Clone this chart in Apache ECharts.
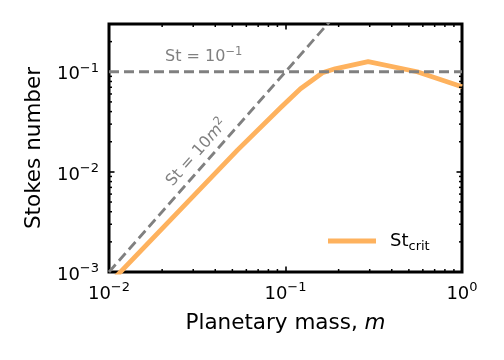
<!DOCTYPE html>
<html>
<head>
<meta charset="utf-8">
<script src="https://cdn.jsdelivr.net/npm/echarts@6/dist/echarts.min.js"></script>
<style>html,body{margin:0;padding:0;background:#fff;}#c{width:504px;height:360px;}</style>
</head>
<body>
<div id="c"></div>
<script>
// ---- data ----
const critM  = [0.01, 0.0536, 0.0937, 0.1216, 0.138, 0.162, 0.191, 0.294, 0.557, 1.0];
const critSt = [0.00076, 0.0166, 0.0437, 0.0676, 0.0794, 0.0977, 0.107, 0.126, 0.100, 0.0708];
const refLineM  = [0.01, 0.2];       // St = 10 m^2 reference
const refLineSt = [0.001, 0.4];
const hLineM  = [0.01, 1];           // St = 10^-1 reference
const hLineSt = [0.1, 0.1];
const xMinorTicks = [0.02,0.03,0.04,0.05,0.06,0.07,0.08,0.09,0.2,0.3,0.4,0.5,0.6,0.7,0.8,0.9];
const yMinorTicks = [0.002,0.003,0.004,0.005,0.006,0.007,0.008,0.009,0.02,0.03,0.04,0.05,0.06,0.07,0.08,0.09,0.2,0.3];
const xRange = [0.01, 1];
const yRange = [0.001, 0.3];

const FONT = 'DejaVu Sans';
const GRAY = '#808080';
const ORANGE = '#feb25e';

function powLabel(v) {
  const l = Math.log10(v);
  const e = Math.round(l);
  if (Math.abs(l - e) > 0.01) return '';
  return '{b|10}{s|' + (e < 0 ? '\u2212' + (-e) : e) + '}';
}
const tickRich = {
  b: {fontFamily: FONT, fontSize: 18, lineHeight: 26, color: '#000'},
  s: {fontFamily: FONT, fontSize: 13, lineHeight: 12, verticalAlign: 'top', color: '#000'}
};

const chart = echarts.init(document.getElementById('c'), null, {renderer: 'canvas'});

function minorTickSeries(values, isX) {
  return {
    type: 'custom',
    silent: true,
    z: 5,
    data: values.map(v => isX ? [v, 0.01] : [0.1, v]),
    renderItem: function (params, api) {
      const cs = params.coordSys;
      const L = 3;
      const st = {stroke: '#000', lineWidth: 1.5};
      if (isX) {
        const x = api.coord([api.value(0), api.value(1)])[0];
        const yb = cs.y + cs.height, yt = cs.y;
        return {type: 'group', children: [
          {type: 'line', shape: {x1: x, y1: yb, x2: x, y2: yb - L}, style: st},
          {type: 'line', shape: {x1: x, y1: yt, x2: x, y2: yt + L}, style: st}
        ]};
      } else {
        const y = api.coord([api.value(0), api.value(1)])[1];
        const xl = cs.x, xr = cs.x + cs.width;
        return {type: 'group', children: [
          {type: 'line', shape: {x1: xl, y1: y, x2: xl + L, y2: y}, style: st},
          {type: 'line', shape: {x1: xr, y1: y, x2: xr - L, y2: y}, style: st}
        ]};
      }
    }
  };
}

const axisTick = {show: true, inside: true, length: 5.5, lineStyle: {color: '#000', width: 1.6}};

const option = {
  animation: false,
  backgroundColor: '#fff',
  grid: {left: 109, right: 42, top: 24, bottom: 88, show: true, borderColor: '#000', borderWidth: 3, backgroundColor: 'transparent'},
  xAxis: [
    {type: 'log', logBase: 10, min: xRange[0], max: xRange[1], interval: 1, position: 'bottom',
     axisLine: {show: false}, splitLine: {show: false}, axisTick: axisTick,
     axisLabel: {formatter: powLabel, rich: tickRich, margin: 9},
     name: '{a|Planetary mass, }{i|m}', nameLocation: 'middle', nameGap: 40,
     nameTextStyle: {rich: {a: {fontFamily: FONT, fontSize: 21.5, color: '#000'}, i: {fontFamily: FONT, fontSize: 21.5, fontStyle: 'italic', color: '#000'}}}},
    {type: 'log', logBase: 10, min: xRange[0], max: xRange[1], interval: 1, position: 'top',
     axisLine: {show: false}, splitLine: {show: false}, axisTick: axisTick, axisLabel: {show: false}}
  ],
  yAxis: [
    {type: 'log', logBase: 10, min: yRange[0], max: yRange[1], interval: 1, position: 'left',
     axisLine: {show: false}, splitLine: {show: false}, axisTick: axisTick,
     axisLabel: {formatter: powLabel, rich: tickRich, margin: 10, showMaxLabel: false, padding: [6, 0, 0, 0]},
     name: 'Stokes number', nameLocation: 'middle', nameGap: 64, nameRotate: 90,
     nameTextStyle: {fontFamily: FONT, fontSize: 21.5, color: '#000'}},
    {type: 'log', logBase: 10, min: yRange[0], max: yRange[1], interval: 1, position: 'right',
     axisLine: {show: false}, splitLine: {show: false}, axisTick: axisTick, axisLabel: {show: false}}
  ],
  legend: {
    data: ['St_crit'], left: 323, top: 227, itemWidth: 48, itemHeight: 5, icon: 'rect',
    formatter: () => '{g| }{a|St}{c|crit}',
    textStyle: {rich: {
      g: {width: 9, fontSize: 18, lineHeight: 24},
      a: {fontFamily: FONT, fontSize: 18, lineHeight: 24, color: '#000'},
      c: {fontFamily: FONT, fontSize: 13, lineHeight: 13, verticalAlign: 'bottom', color: '#000'}
    }}
  },
  series: [
    {name: 'St_crit', type: 'line', data: critM.map((m, i) => [m, critSt[i]]), showSymbol: false, symbol: 'none',
     lineStyle: {color: ORANGE, width: 4.8, join: 'round'}, itemStyle: {color: ORANGE}, clip: true, z: 2},
    {name: 'ref1', type: 'line', data: hLineM.map((m, i) => [m, hLineSt[i]]), symbol: 'none',
     lineStyle: {color: GRAY, width: 2.8, type: [10, 5]}, clip: true, z: 3},
    {name: 'ref2', type: 'line', data: refLineM.map((m, i) => [m, refLineSt[i]]), symbol: 'none',
     lineStyle: {color: GRAY, width: 2.8, type: [10, 5]}, clip: true, z: 3},
    minorTickSeries(xMinorTicks, true),
    minorTickSeries(yMinorTicks, false)
  ]
};
chart.setOption(option);

// annotations positioned through the chart's own scales
const p1 = chart.convertToPixel({gridIndex: 0}, [0.0344, 0.141]);
const p2 = chart.convertToPixel({gridIndex: 0}, [0.0315, 0.0155]);
const a = chart.convertToPixel({gridIndex: 0}, [refLineM[0], refLineSt[0]]);
const b = chart.convertToPixel({gridIndex: 0}, [refLineM[1], refLineSt[1]]);
const ang = Math.atan2(a[1] - b[1], b[0] - a[0]);
const annRich = {
  a: {fontFamily: FONT, fontSize: 16, lineHeight: 22, fill: GRAY},
  i: {fontFamily: FONT, fontSize: 16, lineHeight: 22, fontStyle: 'italic', fill: GRAY},
  s: {fontFamily: FONT, fontSize: 11.5, lineHeight: 11, verticalAlign: 'top', fill: GRAY}
};
chart.setOption({
  graphic: [
    {type: 'text', x: p1[0], y: p1[1], style: {text: '{a|St = 10}{s|\u22121}', rich: annRich, align: 'center', verticalAlign: 'middle'}, z: 10},
    {type: 'text', x: p2[0], y: p2[1], rotation: ang, style: {text: '{a|St = 10}{i|m}{s|2}', rich: annRich, align: 'center', verticalAlign: 'middle'}, z: 10}
  ]
});
</script>
</body>
</html>
